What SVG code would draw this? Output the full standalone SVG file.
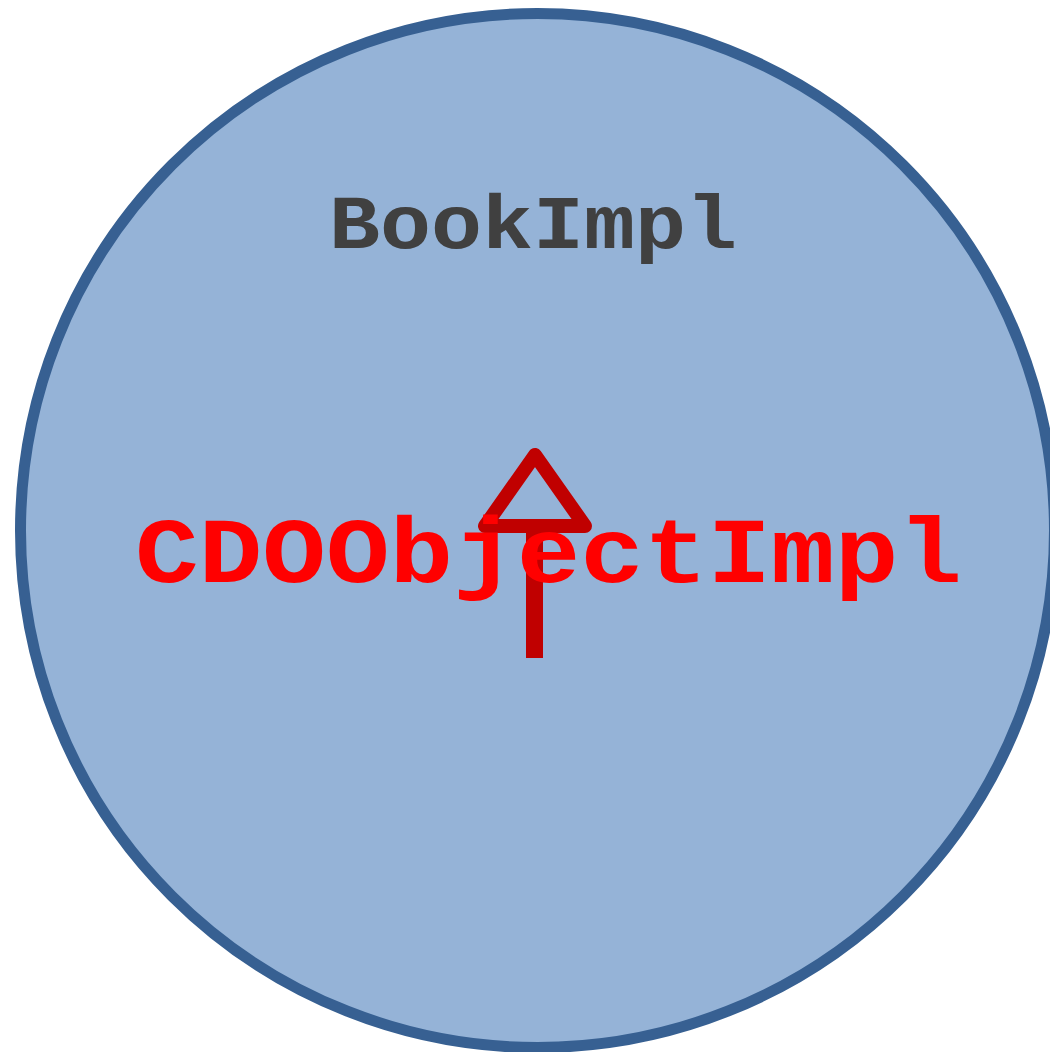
<svg xmlns="http://www.w3.org/2000/svg" width="1050" height="1052" viewBox="0 0 1050 1052">
<style>
.mono{font-family:"Liberation Mono","Courier New",monospace;font-weight:bold;text-anchor:middle}
</style>
<rect width="1050" height="1052" fill="#ffffff"/>
<g id="bookimpl">
<circle cx="537.5" cy="530.5" r="517" fill="#95B3D7" stroke="#376092" stroke-width="11"/>
<text class="mono" transform="translate(533,248) scale(1,0.9)" font-size="85" fill="#404040">BookImpl</text>
</g>
<g id="connectors">
<line x1="534.5" y1="526" x2="534.5" y2="658" stroke="#C00000" stroke-width="17"/>
<polygon points="535,455 485,526 585,526" fill="none" stroke="#C00000" stroke-width="14" stroke-linejoin="round"/>
</g>
<g id="cdoobjectimpl">
<text class="mono" transform="translate(548.5,582) scale(1,0.88)" font-size="106" fill="#FF0000">CDOObjectImpl</text>
</g>
</svg>
